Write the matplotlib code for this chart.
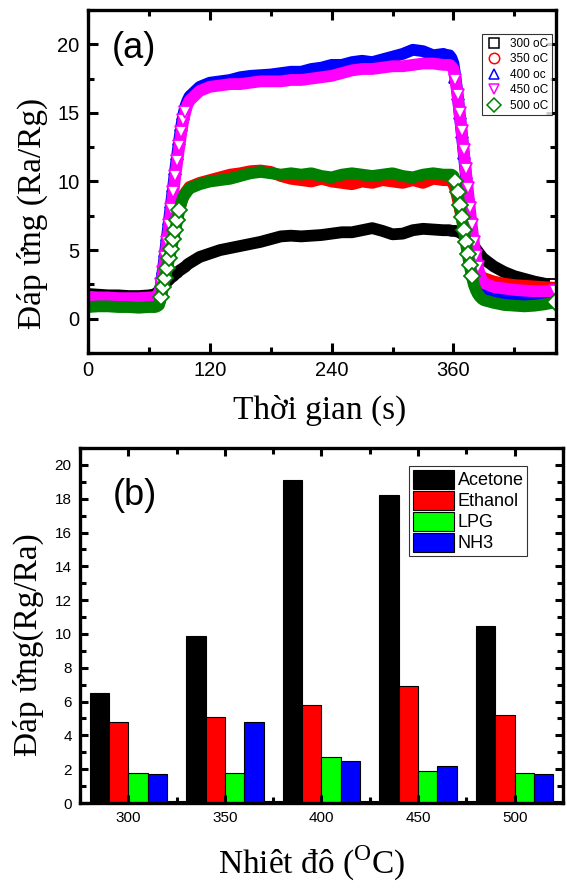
import numpy as np
import matplotlib
matplotlib.use('Agg')
import matplotlib.pyplot as plt
from matplotlib.lines import Line2D
from matplotlib.ticker import MultipleLocator

plt.rcParams['font.family'] = ['Liberation Sans', 'DejaVu Sans']
plt.rcParams['mathtext.fontset'] = 'custom'
plt.rcParams['mathtext.rm'] = 'Liberation Serif'

# ---- (a) response vs time
t = [0, 10, 20, 30, 40, 50, 60,
     64, 66, 68, 70, 72, 74, 76, 78, 80, 82, 84, 86, 88, 90, 92, 94, 96, 98,
     100, 110, 120, 130, 140, 150, 160, 170, 180, 190, 200, 210, 220, 230, 240,
     250, 260, 270, 280, 290, 300, 310, 320, 330, 340, 350,
     354, 356, 358, 360, 362, 364, 366, 368, 370, 372, 374, 376, 378, 380, 382,
     384, 386, 388, 390,
     400, 410, 420, 430, 440, 450, 460]

r300 = [1.8, 1.75, 1.7, 1.7, 1.65, 1.65, 1.7,
        1.75, 1.8, 1.9, 2.05, 2.2, 2.4, 2.55, 2.7, 2.85, 3.0, 3.1, 3.25, 3.35, 3.5, 3.6, 3.7, 3.8, 3.95,
        4.05, 4.5, 4.75, 5.0, 5.15, 5.3, 5.45, 5.6, 5.8, 6.0, 6.05, 6.0, 6.05, 6.1, 6.2,
        6.3, 6.3, 6.45, 6.6, 6.4, 6.15, 6.2, 6.45, 6.55, 6.5, 6.45,
        6.45, 6.45, 6.4, 6.4, 6.4, 6.35, 6.3, 6.2, 6.1, 6.0, 5.85, 5.7, 5.5, 5.3, 5.1,
        4.9, 4.7, 4.5, 4.35,
        3.8, 3.4, 3.1, 2.9, 2.7, 2.55, 2.45]

r350 = [1.45, 1.45, 1.4, 1.4, 1.4, 1.4, 1.45,
        1.45, 1.5, 1.55, 1.7, 2.1, 2.7, 3.4, 4.1, 4.8, 5.5, 6.2, 6.9, 7.5, 8.0, 8.5, 8.9, 9.2, 9.4,
        9.6, 9.9, 10.1, 10.3, 10.5, 10.6, 10.75, 10.8, 10.7, 10.4, 10.2, 10.1, 10.0, 10.2, 10.0,
        9.9, 9.8, 10.0, 9.9, 10.1, 10.0, 9.9, 10.1, 9.9, 10.2, 10.1,
        10.1, 10.1, 10.0, 9.8, 9.4, 8.8, 8.1, 7.4, 6.7, 6.0, 5.4, 4.9, 4.4, 4.0, 3.7,
        3.4, 3.2, 3.05, 2.95,
        2.7, 2.55, 2.45, 2.4, 2.35, 2.3, 2.25]

r400 = [1.0, 1.0, 1.0, 1.0, 1.0, 1.0, 1.0,
        1.0, 1.05, 1.2, 1.6, 2.6, 3.7, 4.9, 6.1, 7.3, 8.5, 9.7, 10.9, 12.0, 13.1, 14.1, 14.9, 15.5, 15.9,
        16.2, 16.9, 17.2, 17.3, 17.4, 17.6, 17.7, 17.75, 17.8, 17.9, 18.0, 18.0, 18.2, 18.3, 18.5,
        18.5, 18.7, 18.8, 18.7, 18.9, 19.1, 19.3, 19.6, 19.5, 19.2, 19.3,
        19.2, 19.2, 19.0, 18.6, 17.6, 16.4, 15.0, 13.6, 12.1, 10.6, 9.1, 7.7, 6.3, 5.1, 4.1,
        3.3, 2.7, 2.3, 2.1,
        1.9, 1.8, 1.75, 1.7, 1.7, 1.7, 1.7]

r450 = [1.6, 1.55, 1.55, 1.5, 1.5, 1.5, 1.55,
        1.55, 1.6, 1.7, 1.9, 2.5, 3.4, 4.5, 5.6, 6.8, 8.0, 9.2, 10.4, 11.5, 12.6, 13.6, 14.5, 15.1, 15.6,
        15.9, 16.6, 16.9, 17.0, 17.1, 17.1, 17.2, 17.3, 17.3, 17.3, 17.4, 17.4, 17.5, 17.6, 17.7,
        17.9, 18.1, 18.2, 18.2, 18.3, 18.4, 18.4, 18.5, 18.6, 18.6, 18.5,
        18.5, 18.5, 18.4, 18.2, 17.4, 16.3, 15.0, 13.7, 12.3, 10.9, 9.5, 8.1, 6.8, 5.6, 4.6,
        3.8, 3.2, 2.8, 2.6,
        2.3, 2.2, 2.1, 2.05, 2.0, 2.0, 2.0]

r500 = [0.85, 0.9, 0.9, 0.85, 0.85, 0.8, 0.85,
        0.85, 0.85, 0.9, 1.0, 1.6, 2.3, 3.0, 3.7, 4.4, 5.1, 5.8, 6.5, 7.2, 7.9, 8.5, 8.9, 9.1, 9.3,
        9.5, 9.8, 10.0, 10.1, 10.2, 10.4, 10.6, 10.7, 10.6, 10.5, 10.6, 10.5, 10.6, 10.4, 10.3,
        10.5, 10.6, 10.5, 10.4, 10.5, 10.6, 10.4, 10.3, 10.5, 10.6, 10.5,
        10.5, 10.5, 10.5, 10.4, 10.0, 9.2, 8.3, 7.4, 6.5, 5.6, 4.7, 3.9, 3.1, 2.5, 2.1,
        1.8, 1.6, 1.45, 1.35,
        1.15, 1.0, 0.95, 0.9, 0.95, 1.05, 1.2]

series_a = [r300, r350, r400, r450, r500]
labels_a = ['300 oC', '350 oC', '400 oc', '450 oC', '500 oC']
colors_a = ['black', 'red', 'blue', 'magenta', 'green']
markers_a = ['s', 'o', '^', 'v', 'D']

# ---- (b) response per temperature
temps = [300, 350, 400, 450, 500]
acetone = [6.5, 9.9, 19.1, 18.2, 10.5]
ethanol = [4.8, 5.1, 5.8, 6.9, 5.2]
lpg = [1.8, 1.8, 2.7, 1.9, 1.8]
nh3 = [1.7, 4.8, 2.5, 2.2, 1.7]
blank = [0.1, 0.1, 0.1, 0.1, 0.1]
gases = ['Acetone', 'Ethanol', 'LPG', 'NH3']
colors_b = ['#000000', '#ff0000', '#00ff00', '#0000ff']

fig = plt.figure(figsize=(5.67, 8.88), dpi=100)
ax1 = fig.add_axes([88/567, 1-353/888, 468/567, 343/888])
ax2 = fig.add_axes([80/567, 1-803/888, 483/567, 355/888])

tt = np.array(t, dtype=float)
for vals, c, m in zip(series_a, colors_a, markers_a):
    v = np.array(vals)
    ax1.plot(tt, v, color=c, lw=8.5, solid_joinstyle='round', solid_capstyle='round')
    steep = np.abs(np.gradient(v, tt)) > 0.25
    steep[-1] = True
    ax1.plot(tt[steep], v[steep], ls='none', marker=m, ms=8, mfc='white',
             mec=c, mew=1.3)

ax1.set_xlim(0, 461)
ax1.set_ylim(-2.5, 22.5)
ax1.xaxis.set_major_locator(MultipleLocator(120))
ax1.xaxis.set_minor_locator(MultipleLocator(60))
ax1.yaxis.set_major_locator(MultipleLocator(5))
ax1.yaxis.set_minor_locator(MultipleLocator(2.5))
ax1.tick_params(which='both', direction='in', top=True, right=True, width=2.2,
                labelsize=14.5, pad=6)
ax1.tick_params(which='major', length=7)
ax1.tick_params(which='minor', length=4)
for s in ax1.spines.values():
    s.set_linewidth(2.4)
ax1.text(0.051, 0.889, '(a)', transform=ax1.transAxes, fontsize=26, va='center')

h_a = [Line2D([], [], ls='none', marker=m, ms=7.5, mfc='white', mec=c, mew=1.1)
       for c, m in zip(colors_a, markers_a)]
leg = ax1.legend(h_a, labels_a, loc='upper right', bbox_to_anchor=(0.999, 0.94),
                 fontsize=8.5, frameon=True, fancybox=False, edgecolor='black',
                 handlelength=1.4, handletextpad=0.7, labelspacing=0.3,
                 borderpad=0.3, borderaxespad=0.3)
leg.get_frame().set_linewidth(0.8)

fig.text(32/567, 1-213/888, 'Đáp ứng (Ra/Rg)', rotation=90, ha='center', va='center',
         fontsize=24, family='Liberation Serif')
fig.text(320/567, 1-410/888, 'Thời gian (s)', ha='center', va='center',
         fontsize=24, family='Liberation Serif')

# bars
w = 10
offs = [-15, -5, 5, 15]
x = np.array(temps, dtype=float)
for vals, c, o, g in zip([acetone, ethanol, lpg, nh3], colors_b, offs, gases):
    ax2.bar(x + o, vals, width=w, color=c, edgecolor='black', linewidth=0.8, label=g)
ax2.bar(x + 25, blank, width=w, color='white', edgecolor='black', linewidth=0.8)

ax2.set_xlim(275, 525)
ax2.set_ylim(0, 21)
ax2.set_xticks(temps)
ax2.xaxis.set_minor_locator(MultipleLocator(25))
ax2.yaxis.set_major_locator(MultipleLocator(2))
ax2.yaxis.set_minor_locator(MultipleLocator(1))
ax2.tick_params(which='both', direction='in', top=True, right=True, width=2.2,
                labelsize=11, pad=6)
ax2.tick_params(which='major', length=6)
ax2.tick_params(which='minor', length=4)
for s in ax2.spines.values():
    s.set_linewidth(2.4)
ax2.text(0.068, 0.865, '(b)', transform=ax2.transAxes, fontsize=26, va='center')

leg2 = ax2.legend(loc='upper right', bbox_to_anchor=(0.945, 0.975), fontsize=13,
                  frameon=True, fancybox=False, edgecolor='black',
                  handlelength=2.3, handleheight=1.25, handletextpad=0.2,
                  labelspacing=0.08, borderpad=0.2)
leg2.get_frame().set_linewidth(0.8)

fig.text(28/567, 1-645/888, 'Đáp ứng(Rg/Ra)', rotation=90, ha='center', va='center',
         fontsize=24, family='Liberation Serif')
fig.text(312/567, 1-863/888, r'Nhiêt đô ($^{\rm O}$C)', ha='center', va='center',
         fontsize=24, family='Liberation Serif')

fig.savefig('out.png', dpi=100)
